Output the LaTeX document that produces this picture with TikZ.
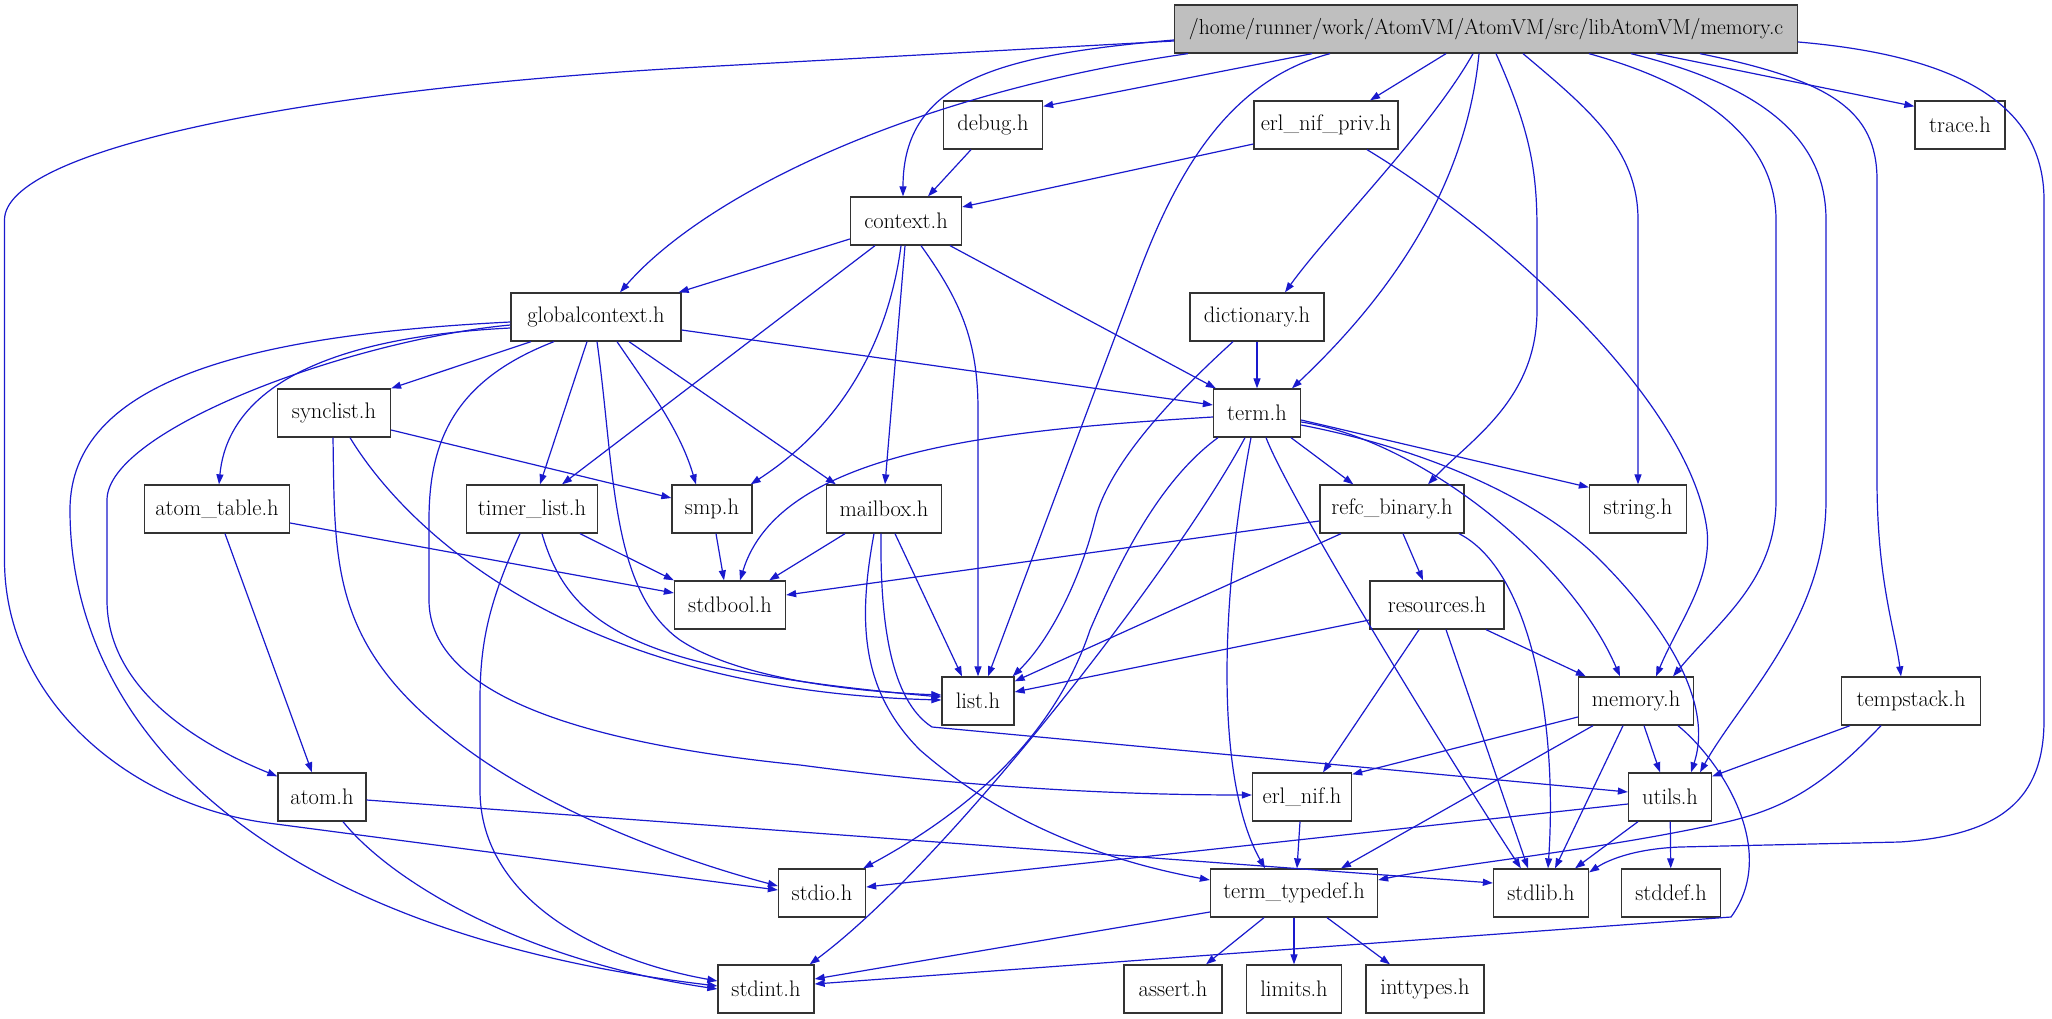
\documentclass[tikz,border=0pt]{standalone}
\usepackage{fontspec}
\usetikzlibrary{arrows.meta}
\definecolor{edgeblue}{RGB}{25,25,205}
\definecolor{boxgray}{RGB}{191,191,191}
\begin{document}
\begin{tikzpicture}[x=1pt,y=-1pt,
  hdr/.style={draw=black!80, line width=1.3pt, fill=white, minimum height=48pt, inner sep=0pt, font=\fontsize{22.5}{26}\selectfont},
  dep/.style={draw=edgeblue, line width=1.2pt, -{Triangle[length=10pt,width=7pt]}, fill=none}]
\useasboundingbox (0,0) rectangle (2052,1019);
% nodes
\node[hdr, fill=boxgray, minimum width=623pt, font=\fontsize{21.6}{26}\selectfont] (mc) at (1486,29) {/home/runner/work/AtomVM/AtomVM/src/libAtomVM/memory.c};
\node[hdr, minimum width=99pt] (debug) at (993,125) {debug.h};
\node[hdr, minimum width=144pt] (enp) at (1326,125) {erl\_nif\_priv.h};
\node[hdr, minimum width=90pt] (trace) at (1960,125) {trace.h};
\node[hdr, minimum width=111pt] (context) at (906,221) {context.h};
\node[hdr, minimum width=170pt] (gc) at (596,317) {globalcontext.h};
\node[hdr, minimum width=134pt] (dict) at (1257,317) {dictionary.h};
\node[hdr, minimum width=87pt] (term) at (1257,413) {term.h};
\node[hdr, minimum width=113pt] (synclist) at (334,413) {synclist.h};
\node[hdr, minimum width=145pt] (atomtable) at (217,509) {atom\_table.h};
\node[hdr, minimum width=131pt] (timer) at (532,509) {timer\_list.h};
\node[hdr, minimum width=80pt] (smp) at (712,509) {smp.h};
\node[hdr, minimum width=115pt] (mailbox) at (884,509) {mailbox.h};
\node[hdr, minimum width=144pt] (refc) at (1392,509) {refc\_binary.h};
\node[hdr, minimum width=97pt] (string) at (1638,509) {string.h};
\node[hdr, minimum width=111pt] (stdbool) at (730,605) {stdbool.h};
\node[hdr, minimum width=134pt] (resources) at (1437,605) {resources.h};
\node[hdr, minimum width=72pt] (list) at (978,701) {list.h};
\node[hdr, minimum width=115pt] (memh) at (1636,701) {memory.h};
\node[hdr, minimum width=139pt] (tempstack) at (1911,701) {tempstack.h};
\node[hdr, minimum width=88pt] (atom) at (322,797) {atom.h};
\node[hdr, minimum width=99pt] (erlnif) at (1302,797) {erl\_nif.h};
\node[hdr, minimum width=83pt] (utils) at (1670,797) {utils.h};
\node[hdr, minimum width=87pt] (stdio) at (822,893) {stdio.h};
\node[hdr, minimum width=167pt] (tt) at (1294,893) {term\_typedef.h};
\node[hdr, minimum width=95pt] (stdlib) at (1541,893) {stdlib.h};
\node[hdr, minimum width=99pt] (stddef) at (1671,893) {stddef.h};
\node[hdr, minimum width=96pt] (stdint) at (766,989) {stdint.h};
\node[hdr, minimum width=98pt] (assert) at (1173,989) {assert.h};
\node[hdr, minimum width=95pt] (limits) at (1294,989) {limits.h};
\node[hdr, minimum width=118pt] (inttypes) at (1425,989) {inttypes.h};
% memory.c edges
\draw[dep] ([yshift=-12pt]mc.west) -- (700,67) .. controls (300,89) and (4.5,150) .. (4.5,220) -- (4.5,560) .. controls (4.5,700) and (130,805) .. (268,823) -- ([yshift=3pt]stdio.west);
\draw[dep] ([xshift=14pt]mc.south west) .. controls (900,95) and (700,200) .. ([xshift=24pt]gc.north);
\draw[dep] ([yshift=-11pt]mc.west) .. controls (1000,55) and (903,80) .. ([xshift=-3pt]context.north);
\draw[dep] ([xshift=-174pt]mc.south) -- ([yshift=-6pt]debug.north east);
\draw[dep] ([xshift=-156pt]mc.south) .. controls (1230,80) and (1178,170) .. (1140,270) -- ([xshift=10pt]list.north);
\draw[dep] ([xshift=-40pt]mc.south) -- ([xshift=44pt]enp.north);
\draw[dep] ([xshift=-13pt]mc.south) .. controls (1430,130) and (1330,230) .. ([xshift=28pt]dict.north);
\draw[dep] ([xshift=-7pt]mc.south) .. controls (1465,200) and (1375,310) .. ([xshift=35pt]term.north);
\draw[dep] ([xshift=10pt]mc.south) .. controls (1530,130) and (1537,170) .. (1537,230) -- (1537,310) .. controls (1537,400) and (1470,440) .. ([xshift=36pt]refc.north);
\draw[dep] ([xshift=37pt]mc.south) .. controls (1590,110) and (1638,150) .. (1638,220) -- (string.north);
\draw[dep] ([xshift=103pt]mc.south) .. controls (1720,90) and (1776,150) .. (1776,220) -- (1776,500) .. controls (1776,580) and (1720,620) .. ([xshift=37pt]memh.north);
\draw[dep] ([xshift=145pt]mc.south) .. controls (1780,90) and (1826,150) .. (1826,220) -- (1826,500) .. controls (1826,620) and (1740,700) .. ([xshift=30pt]utils.north);
\draw[dep] ([xshift=214pt]mc.south) .. controls (1830,80) and (1877,110) .. (1877,180) -- (1877,480) .. controls (1877,580) and (1895,630) .. ([xshift=-10pt]tempstack.north);
\draw[dep] ([xshift=170pt]mc.south) -- ([yshift=-6pt]trace.north west);
\draw[dep] ([yshift=-13pt]mc.east) .. controls (1950,55) and (2044,100) .. (2044,200) -- (2044,720) .. controls (2044,800) and (2000,835) .. (1900,842) -- (1680,847) .. controls (1630,849) and (1605,862) .. ([yshift=-4pt]stdlib.north east);
% context edges
\draw[dep] ([yshift=-18pt]context.west) -- ([xshift=-3pt]gc.north east);
\draw[dep] ([xshift=-31pt]context.south) -- ([xshift=30pt]timer.north);
\draw[dep] ([xshift=-5pt]context.south) .. controls (890,330) and (850,420) .. ([xshift=-2pt]smp.north east);
\draw[dep] ([xshift=-1pt]context.south) -- ([xshift=1pt]mailbox.north);
\draw[dep] ([xshift=15pt]context.south) .. controls (960,300) and (978,340) .. (978,410) -- (list.north);
\draw[dep] ([xshift=44pt]context.south) -- ([xshift=3pt]term.north west);
% debug, erl_nif_priv
\draw[dep] ([xshift=-22pt]debug.south) -- ([xshift=22pt]context.north);
\draw[dep] ([yshift=-19pt]enp.west) -- ([yshift=14pt]context.east);
\draw[dep] ([xshift=41pt]enp.south) .. controls (1500,230) and (1690,400) .. (1707,530) .. controls (1712,580) and (1680,620) .. ([xshift=20pt]memh.north);
% dictionary
\draw[dep] (dict) -- (term);
\draw[dep] ([xshift=-24pt]dict.south) .. controls (1180,390) and (1110,460) .. (1095,520) .. controls (1080,580) and (1050,640) .. ([xshift=-2pt]list.north east);
% term
\draw[dep] ([xshift=34pt]term.south) -- ([xshift=34pt]refc.north west);
\draw[dep] ([yshift=-7pt]term.east) -- ([yshift=-3pt]string.north west);
\draw[dep] ([yshift=-9pt]term.east) .. controls (1420,440) and (1570,560) .. ([xshift=-16pt]memh.north);
\draw[dep] ([yshift=-12pt]term.east) .. controls (1430,450) and (1540,500) .. (1600,560) .. controls (1660,620) and (1715,700) .. ([xshift=21pt]utils.north);
\draw[dep] ([yshift=-4pt]term.west) .. controls (1000,430) and (780,450) .. ([xshift=10pt]stdbool.north);
\draw[dep] ([xshift=-39pt]term.south) .. controls (1160,480) and (1120,560) .. (1090,630) .. controls (1060,720) and (990,800) .. ([xshift=-3pt]stdio.north east);
\draw[dep] ([xshift=-12pt]term.south) .. controls (1180,560) and (950,860) .. ([xshift=-5pt]stdint.north east);
\draw[dep] ([xshift=-6pt]term.south) .. controls (1220,600) and (1215,780) .. ([xshift=-29pt]tt.north);
\draw[dep] ([xshift=9pt]term.south) .. controls (1290,500) and (1450,760) .. ([xshift=28pt]stdlib.north west);
% refc_binary
\draw[dep] ([yshift=-12pt]refc.west) -- ([yshift=10pt]stdbool.east);
\draw[dep] ([xshift=-51pt]refc.south) -- ([yshift=-5pt]list.north east);
\draw[dep] ([xshift=11pt]refc.south) -- ([xshift=-14pt]resources.north);
\draw[dep] ([xshift=67pt]refc.south) .. controls (1530,570) and (1558,720) .. ([xshift=7pt]stdlib.north);
% resources
\draw[dep] ([yshift=-15pt]resources.west) -- ([yshift=9pt]list.east);
\draw[dep] ([xshift=49pt]resources.south) -- ([xshift=8pt]memh.north west);
\draw[dep] ([xshift=-18pt]resources.south) -- ([xshift=21pt]erlnif.north);
\draw[dep] ([xshift=9pt]resources.south) -- ([xshift=-13pt]stdlib.north);
% globalcontext
\draw[dep] ([yshift=-5pt]gc.west) .. controls (250,335) and (70,380) .. (70,510) .. controls (70,720) and (250,930) .. ([yshift=3pt]stdint.west);
\draw[dep] ([yshift=-8pt]gc.west) .. controls (350,340) and (107,430) .. (107,500) -- (107,600) .. controls (107,690) and (200,745) .. ([yshift=-4pt]atom.north west);
\draw[dep] ([yshift=-11pt]gc.west) .. controls (270,340) and (225,420) .. ([xshift=2pt]atomtable.north);
\draw[dep] ([xshift=-65pt]gc.south) -- (synclist.north east);
\draw[dep] ([xshift=-42pt]gc.south) .. controls (455,380) and (429,440) .. (429,520) -- (429,600) .. controls (429,700) and (600,745) .. (800,765) .. controls (950,785) and (1100,795) .. ([yshift=2pt]erlnif.west);
\draw[dep] ([xshift=-9pt]gc.south) -- ([xshift=8pt]timer.north);
\draw[dep] ([xshift=1pt]gc.south) .. controls (615,470) and (610,590) .. (680,640) .. controls (740,680) and (860,692) .. ([yshift=6pt]list.west);
\draw[dep] ([xshift=21pt]gc.south) .. controls (650,390) and (680,430) .. ([xshift=-16pt]smp.north);
\draw[dep] ([xshift=33pt]gc.south) -- ([xshift=10pt]mailbox.north west);
\draw[dep] ([yshift=-13pt]gc.east) -- ([yshift=8pt]term.west);
% synclist
\draw[dep] ([yshift=-17pt]synclist.east) -- ([yshift=11pt]smp.west);
\draw[dep] ([xshift=16pt]synclist.south) .. controls (400,520) and (560,690) .. ([yshift=1pt]list.west);
\draw[dep] ([xshift=-1pt]synclist.south) .. controls (335,560) and (330,640) .. (446,733) .. controls (540,810) and (680,860) .. ([yshift=7pt]stdio.west);
% timer_list
\draw[dep] ([xshift=48pt]timer.south) -- (stdbool.north west);
\draw[dep] ([xshift=10pt]timer.south) .. controls (570,630) and (640,670) .. ([yshift=4pt]list.west);
\draw[dep] ([xshift=-12pt]timer.south) .. controls (490,600) and (480,640) .. (480,700) -- (480,790) .. controls (480,900) and (600,960) .. ([yshift=8pt]stdint.west);
% atom_table
\draw[dep] ([xshift=8pt]atomtable.south) -- ([xshift=-10pt]atom.north);
\draw[dep] ([yshift=-14pt]atomtable.east) -- ([yshift=12pt]stdbool.west);
% smp
\draw[dep] ([xshift=4pt]smp.south) -- ([xshift=-6pt]stdbool.north);
% mailbox
\draw[dep] ([xshift=-39pt]mailbox.south) -- ([xshift=-17pt]stdbool.north east);
\draw[dep] ([xshift=11pt]mailbox.south) -- ([xshift=-16pt]list.north);
\draw[dep] ([xshift=-10pt]mailbox.south) .. controls (858,620) and (860,690) .. (920,750) .. controls (1000,820) and (1100,860) .. ([yshift=13pt]tt.west);
\draw[dep] ([xshift=-3pt]mailbox.south) .. controls (880,620) and (890,700) .. (932,727) -- ([yshift=5pt]utils.west);
% atom
\draw[dep] ([yshift=-3pt]atom.east) -- ([yshift=10pt]stdlib.west);
\draw[dep] ([xshift=21pt]atom.south) .. controls (390,880) and (520,960) .. (stdint.west);
% memory.h
\draw[dep] ([yshift=-16pt]memh.west) -- ([yshift=-2pt]erlnif.north east);
\draw[dep] ([xshift=-43pt]memh.south) -- ([xshift=47pt]tt.north);
\draw[dep] ([xshift=-13pt]memh.south) -- ([xshift=14pt]stdlib.north);
\draw[dep] ([xshift=8pt]memh.south) -- ([xshift=-10pt]utils.north);
\draw[dep] ([xshift=42pt]memh.south) .. controls (1720,760) and (1780,850) .. (1731,917) -- ([yshift=5pt]stdint.east);
% tempstack
\draw[dep] ([xshift=-61pt]tempstack.south) -- ([yshift=-4pt]utils.north east);
\draw[dep] ([xshift=-30pt]tempstack.south) .. controls (1820,790) and (1780,810) .. (1722,823) .. controls (1600,850) and (1450,865) .. ([yshift=13pt]tt.east);
% utils
\draw[dep] ([yshift=-7pt]utils.west) -- ([yshift=6pt]stdio.east);
\draw[dep] ([xshift=-32pt]utils.south) -- ([xshift=34pt]stdlib.north);
\draw[dep] (utils) -- (stddef);
% erl_nif
\draw[dep] ([xshift=-2pt]erlnif.south) -- ([xshift=3pt]tt.north);
% term_typedef
\draw[dep] ([xshift=-30pt]tt.south) -- ([xshift=33pt]assert.north);
\draw[dep] (tt) -- (limits);
\draw[dep] ([xshift=33pt]tt.south) -- ([xshift=-35pt]inttypes.north);
\draw[dep] ([yshift=-19pt]tt.west) -- ([yshift=10pt]stdint.east);
\end{tikzpicture}
\end{document}
